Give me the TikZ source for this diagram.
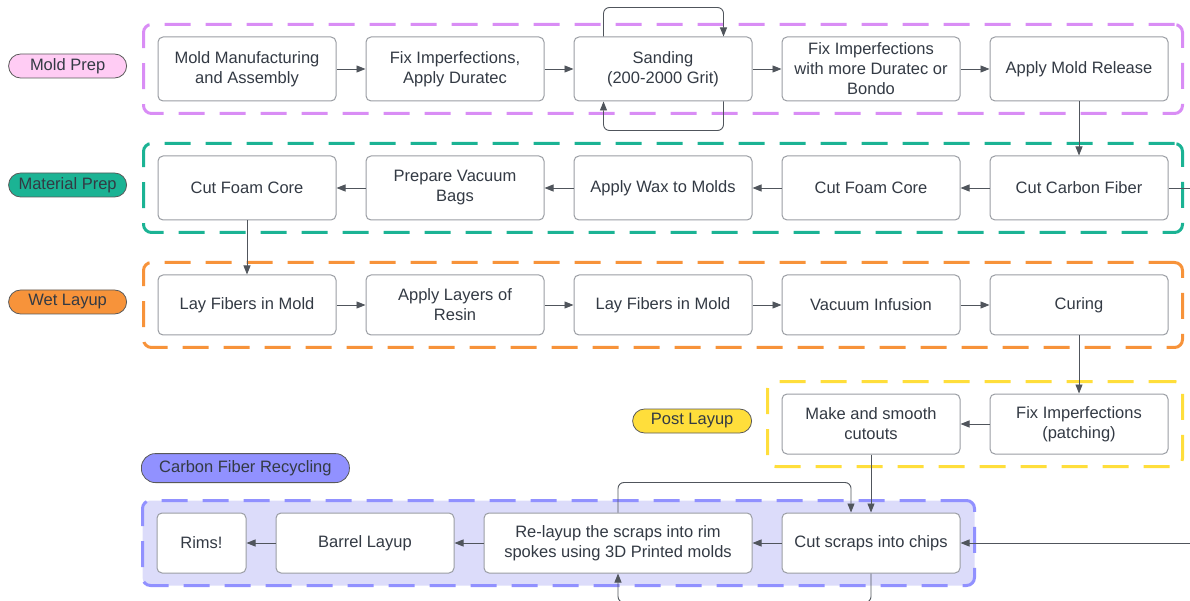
\documentclass[tikz,border=0pt]{standalone}
\usepackage{fontspec}
\setmainfont{Liberation Sans}
\definecolor{moldpink}{HTML}{D98DF5}
\definecolor{moldfill}{HTML}{FFCCF4}
\definecolor{matgreen}{HTML}{1BB394}
\definecolor{wetorange}{HTML}{F7933A}
\definecolor{postyellow}{HTML}{FFDE3B}
\definecolor{recblue}{HTML}{9191FF}
\definecolor{recfill}{HTML}{DCDCFA}
\definecolor{boxline}{HTML}{9A9DA3}
\definecolor{arrowgray}{HTML}{50555C}
\definecolor{textdark}{HTML}{333A44}
\usetikzlibrary{positioning, arrows.meta, fit, backgrounds, calc}

\begin{document}
\begin{tikzpicture}[
  x=1pt, y=1pt,
  font=\fontsize{16.5}{20}\selectfont,
  text=textdark,
  arrow/.style={-{Triangle[length=9pt, width=7pt]}, line width=0.9pt, arrowgray},
  line/.style={line width=0.9pt, arrowgray},
  nd/.style={draw=boxline, line width=1pt, rounded corners=5pt, fill=white,
             minimum width=178pt, minimum height=64pt, inner sep=0pt, align=center},
  nds/.style={nd, minimum height=60pt},
  region/.style={dash pattern=on 26pt off 15pt, line width=3pt, rounded corners=8pt,
                 inner xsep=14pt, inner ysep=12pt},
  tag/.style={draw=black!65, line width=0.8pt, rounded corners=12pt,
              minimum width=118pt, minimum height=24pt, inner sep=0pt},
]
\useasboundingbox (0,0) rectangle (1190,600);
\coordinate (rightedge) at (1190,0);

% --- Mold prep row ---
\node[nd] (a1) at (247,531) {Mold Manufacturing\\and Assembly};
\node[nd, right=29pt of a1] (a2) {Fix Imperfections,\\Apply Duratec};
\node[nd, right=29pt of a2] (a3) {Sanding\\(200-2000 Grit)};
\node[nd, right=29pt of a3] (a4) {Fix Imperfections\\with more Duratec or\\Bondo};
\node[nd, right=29pt of a4] (a5) {Apply Mold Release};

% --- Material prep row (right to left) ---
\node[nd, below=54pt of a5] (b5) {Cut Carbon Fiber};
\node[nd, left=29pt of b5] (b4) {Cut Foam Core};
\node[nd, left=29pt of b4] (b3) {Apply Wax to Molds};
\node[nd, left=29pt of b3] (b2) {Prepare Vacuum\\Bags};
\node[nd, left=29pt of b2] (b1) {Cut Foam Core};

% --- Wet layup row ---
\node[nds, below=54pt of b1] (c1) {Lay Fibers in Mold};
\node[nds, right=29pt of c1] (c2) {Apply Layers of\\Resin};
\node[nds, right=29pt of c2] (c3) {Lay Fibers in Mold};
\node[nds, right=29pt of c3] (c4) {Vacuum Infusion};
\node[nds, right=29pt of c4] (c5) {Curing};

% --- Post layup ---
\node[nds, below=58pt of c5] (d2) {Fix Imperfections\\(patching)};
\node[nds, left=29pt of d2] (d1) {Make and smooth\\cutouts};

% --- Recycling row ---
\node[nds, below=58pt of d1] (e4) {Cut scraps into chips};
\node[nds, left=29pt of e4, minimum width=268pt] (e3) {Re-layup the scraps into rim\\spokes using 3D Printed molds};
\node[nds, left=29pt of e3] (e2) {Barrel Layup};
\node[nds, left=29pt of e2, minimum width=89pt] (e1) {Rims!};

% --- Dashed groups ---
\begin{scope}[on background layer]
  \node[region, draw=moldpink, fit=(a1)(a5)] (moldreg) {};
  \node[region, draw=matgreen, fit=(b1)(b5)] (matreg) {};
  \node[region, draw=wetorange, fit=(c1)(c5)] (wetreg) {};
  \node[region, draw=postyellow, fit=(d1)(d2)] (postreg) {};
  \node[region, draw=recblue, fill=recfill, fit=(e1)(e4)] (recreg) {};
\end{scope}

% --- Group tags ---
\node[tag, fill=moldfill, left=15pt of moldreg, yshift=3pt] (moldtag) {Mold Prep};
\node[tag, fill=matgreen, left=15pt of matreg, yshift=3pt] (mattag) {Material Prep};
\node[tag, fill=wetorange, left=15pt of wetreg, yshift=3pt] (wettag) {Wet Layup};
\node[tag, fill=postyellow, left=14pt of postreg, yshift=3pt, minimum width=119pt] (posttag) {Post Layup};
\node[tag, fill=recblue, minimum width=208pt, minimum height=29pt, rounded corners=14pt,
      above right=16pt and 0pt of recreg.north west] (rectag) {Carbon Fiber Recycling};

% --- Flow ---
\draw[arrow] (a1) -- (a2);
\draw[arrow] (a2) -- (a3);
\draw[arrow] (a3) -- (a4);
\draw[arrow] (a4) -- (a5);
\draw[arrow, rounded corners=6pt] ([xshift=30pt]a3.north west) -- ++(0,29) -| ([xshift=-29pt]a3.north east);
\draw[arrow, rounded corners=6pt] ([xshift=-29pt]a3.south east) -- ++(0,-29) -| ([xshift=30pt]a3.south west);
\draw[arrow] (a5) -- (b5);

\draw[arrow] (b5) -- (b4);
\draw[arrow] (b4) -- (b3);
\draw[arrow] (b3) -- (b2);
\draw[arrow] (b2) -- (b1);
\draw[line] (b5.east) -- (b5.east -| rightedge);
\draw[arrow] (b1) -- (c1);

\draw[arrow] (c1) -- (c2);
\draw[arrow] (c2) -- (c3);
\draw[arrow] (c3) -- (c4);
\draw[arrow] (c4) -- (c5);
\draw[arrow] (c5) -- (d2);

\draw[arrow] (d2) -- (d1);
\draw[arrow] (d1) -- (e4);

% --- Recycling loop ---
\draw[arrow] (e4.east -| rightedge) -- (e4.east);
\draw[arrow] (e4) -- (e3);
\draw[arrow] (e3) -- (e2);
\draw[arrow] (e2) -- (e1);
\draw[arrow, rounded corners=6pt] (e3.north) -- ++(0,30) -| ([xshift=-20pt]e4.north);
\draw[arrow, rounded corners=6pt] (e4.south) -- ++(0,-29) -| (e3.south);

\end{tikzpicture}
\end{document}
